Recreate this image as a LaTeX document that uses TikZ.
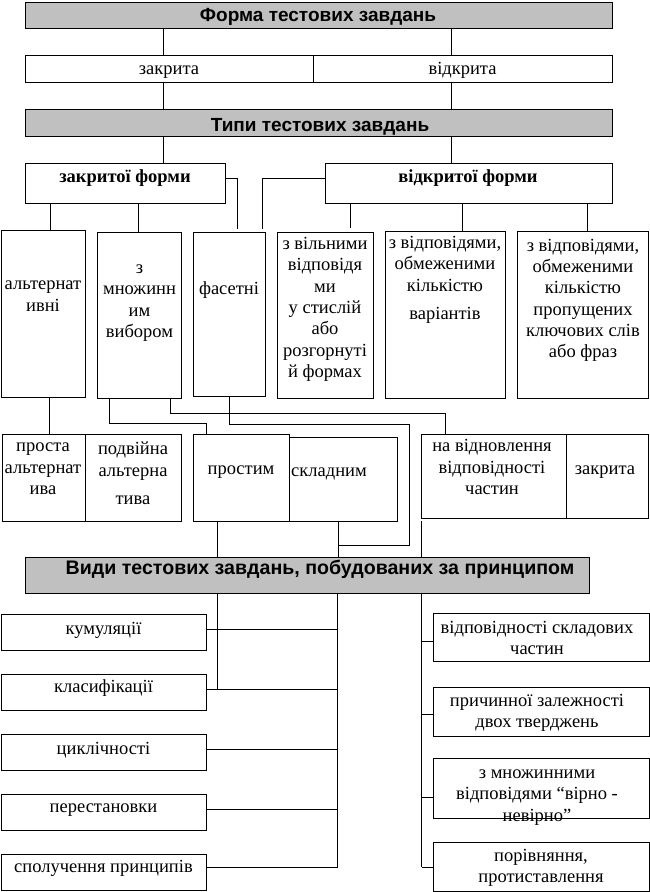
\documentclass[tikz,border=0pt]{standalone}
\usepackage{fontspec}
\setmainfont{Liberation Serif}
\newfontfamily\hsans{Liberation Sans}
\begin{document}
\begin{tikzpicture}[x=1pt,y=-1pt,
  box/.style={draw=black,line width=0.9pt,inner sep=0pt,outer sep=0pt,anchor=north west},
  gbox/.style={box,fill=graybox},
  txt/.style={inner sep=0pt,align=center,anchor=base,
    font=\fontsize{18.5}{21.3}\selectfont},
  btxt/.style={txt,font=\bfseries\fontsize{18.5}{21.3}\selectfont},
  ttl/.style={inner sep=0pt,anchor=base,font=\hsans\bfseries\fontsize{19}{21}\selectfont},
  ln/.style={draw=black,line width=0.9pt}]
\definecolor{graybox}{RGB}{192,192,192}
\useasboundingbox (0,0) rectangle (650,892);
% ---------- boxes ----------
\newcommand\mybox[6]{\node[#1,minimum width=#5-#3,minimum height=#6-#4] (#2) at (#3,#4) {};}
\mybox{gbox}{forma}{25}{2}{612}{28}
\mybox{box}{zakryta}{25}{55}{313}{82}
\mybox{box}{vidkryta}{313}{55}{612}{82}
\mybox{gbox}{typy}{25}{109}{612}{136}
\mybox{box}{zakrf}{25}{163}{225}{203}
\mybox{box}{vidkrf}{325}{163}{612}{203}
\mybox{box}{alt}{1}{230}{85}{397}
\mybox{box}{mnozh}{97}{232}{181}{398}
\mybox{box}{faset}{193}{232}{265}{396}
\mybox{box}{vilni}{277}{232}{373}{398}
\mybox{box}{vidpa}{385}{231}{505}{398}
\mybox{box}{vidpb}{517}{231}{648}{398}
\mybox{box}{prosta}{2}{434}{85}{521}
\mybox{box}{podv}{85}{434}{181}{521}
\mybox{box}{prostym}{193}{434}{289}{521}
\mybox{box}{skladn}{289}{437}{397}{521}
\mybox{box}{vidnovl}{421}{434}{566}{518}
\mybox{box}{zakrb}{566}{434}{648}{518}
\mybox{gbox}{vydy}{25}{557}{589}{593}
\mybox{box}{kum}{1}{614}{206}{650}
\mybox{box}{klas}{1}{674}{206}{710}
\mybox{box}{tsykl}{1}{734}{206}{770}
\mybox{box}{perest}{1}{794}{206}{830}
\mybox{box}{spol}{1}{854}{206}{890}
\mybox{box}{vidpsk}{433}{613}{649}{661}
\mybox{box}{prych}{433}{687}{649}{736}
\mybox{box}{mnv}{433}{758}{649}{818}
\mybox{box}{poriv}{433}{842}{649}{891}
% ---------- texts (anchor = baseline of last line) ----------
\node[ttl] (t1) at (318,21) {Форма тестових завдань};
\node[txt] (t2) at (169,74.3) {закрита};
\node[txt] (t3) at (462.5,74.3) {відкрита};
\node[ttl] (t4) at (320,131) {Типи тестових завдань};
\node[btxt] (t5) at (125,182.3) {закритої форми};
\node[btxt] (t6) at (468,182.3) {відкритої форми};
\node[txt] (t7) at (43,311) {альтернат\\ивні};
\node[txt] (t8) at (139.5,337.3) {з\\множинн\\им\\вибором};
\node[txt] (t9) at (229,294.3) {фасетні};
\node[txt] (t10) at (325,377.3) {з вільними\\відповідя\\ми\\у стислій\\або\\розгорнуті\\й формах};
\node[txt] (t11) at (445,319.3) {з відповідями,\\обмеженими\\кількістю\\[7pt]варіантів};
\node[txt] (t12) at (583,357.6) {з відповідями,\\обмеженими\\кількістю\\пропущених\\ключових слів\\або фраз};
\node[txt] (t13) at (43,494.3) {проста\\альтернат\\ива};
\node[txt] (t14) at (133,504.3) {подвійна\\альтерна\\[7pt]тива};
\node[txt] (t15) at (241,474.3) {простим};
\node[txt,anchor=base west] (t16) at (291,476) {складним};
\node[txt] (t17) at (492,494.3) {на відновлення\\відповідності\\частин};
\node[txt] (t18) at (605,474.3) {закрита};
\node[ttl,font=\hsans\bfseries\fontsize{19.6}{21}\selectfont] (t19) at (320,574) {Види тестових завдань, побудованих за принципом};
\node[txt] (t20) at (103.5,634.3) {кумуляції};
\node[txt] (t21) at (103.5,692.3) {класифікації};
\node[txt] (t22) at (103.5,754.3) {циклічності};
\node[txt] (t23) at (103.5,812.3) {перестановки};
\node[txt] (t24) at (103.5,872.3) {сполучення принципів};
\node[txt] (t25) at (537,654.3) {відповідності складових\\частин};
\node[txt] (t26) at (537,727.3) {причинної залежності\\двох тверджень};
\node[txt] (t27) at (537,821) {з множинними\\відповідями “вірно -\\невірно”};
\node[txt] (t28) at (541,882.6) {порівняння,\\протиставлення};
% ---------- connectors ----------
\coordinate (xa) at (163,0);
\coordinate (xb) at (451,0);
\draw[ln] (forma.south -| xa) -- (zakryta.north -| xa);
\draw[ln] (forma.south -| xb) -- (vidkryta.north -| xb);
\draw[ln] (zakryta.south -| xa) -- (typy.north -| xa);
\draw[ln] (vidkryta.south -| xb) -- (typy.north -| xb);
\draw[ln] (typy.south -| xa) -- (zakrf.north -| xa);
\draw[ln] (typy.south -| xb) -- (vidkrf.north -| xb);
\draw[ln] (zakrf.south -| 50,0) -- (alt.north -| 50,0);
\draw[ln] (zakrf.south -| 138,0) -- (mnozh.north -| 138,0);
\coordinate (fa) at (237,229);
\coordinate (fb) at (262,229);
\draw[ln] (zakrf.east |- 0,178) -| (fa);
\draw[ln] (vidkrf.west |- 0,178) -| (fb);
\coordinate (va) at (350.5,228);
\draw[ln] (vidkrf.south -| va) -- (va);
\draw[ln] (vidkrf.south -| 462.5,0) -- (vidpa.north -| 462.5,0);
\draw[ln] (vidkrf.south -| 587,0) -- (vidpb.north -| 587,0);
\draw[ln] (alt.south -| 49.5,0) -- (prosta.north -| 49.5,0);
\draw[ln] (mnozh.south -| 109,0) |- (206,423) -- (prostym.north -| 206,0);
\draw[ln] (mnozh.south -| 170,0) |- (445,413) -- (vidnovl.north -| 445,0);
\coordinate (sk) at (338,545);
\draw[ln] (faset.south -| 229,0) |- (409,424) |- (sk);
\draw[ln] (skladn.south -| sk) -- (vydy.north -| sk);
\draw[ln] (prostym.south -| 217,0) -- (vydy.north -| 217,0);
\draw[ln] ([yshift=-3pt]vidnovl.south west) -- (vydy.north -| vidnovl.west);
\coordinate (vl) at (217,689);
\coordinate (vm) at (337.5,867);
\coordinate (vr) at (421.7,867);
\draw[ln] (vydy.south -| vl) -- (vl);
\draw[ln] (vydy.south -| vm) -- (vm);
\draw[ln] (vydy.south -| vr) -- (vr);
\draw[ln] (kum.east |- 0,629) -- (vm |- 0,629);
\draw[ln] (klas.east |- 0,689) -- (vm |- 0,689);
\draw[ln] (tsykl.east |- 0,749) -- (vm |- 0,749);
\draw[ln] (perest.east |- 0,809) -- (vm |- 0,809);
\draw[ln] (spol.east |- 0,867) -- (vm);
\draw[ln] (vr |- 0,641) -- (vidpsk.west |- 0,641);
\draw[ln] (vr |- 0,714) -- (prych.west |- 0,714);
\draw[ln] (vr |- 0,797) -- (mnv.west |- 0,797);
\draw[ln] (vr) -- (poriv.west |- vr);
\end{tikzpicture}
\end{document}
